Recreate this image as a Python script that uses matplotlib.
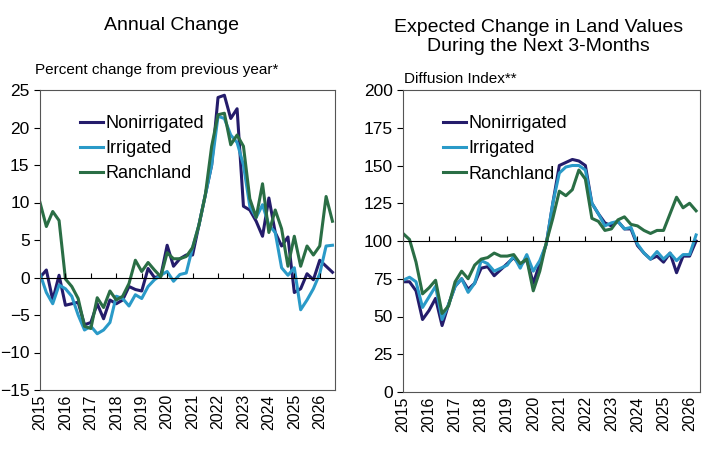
import numpy as np
import matplotlib.pyplot as plt

# Jahreslabels
years = [str(y) for y in range(2015, 2027)]

# Annual Change, quartalsweise ab 2015Q1
left_non = [0, 1, -3, 0.3, -3.7, -3.5, -3.3, -6.3, -6, -3.5, -5.5, -3, -3.5, -3, -1.2, -1.6,
            -1.8, 1.2, 0, 0.2, 4.3, 1.5, 2.5, 3, 3, 7, 11, 15, 24, 24.3, 21.2, 22.5,
            9.5, 9, 7.5, 5.5, 10.6, 6, 4.2, 5.4, -2, -1.5, 0.5, -0.3, 2.3, 1.5, 0.7]
left_irr = [0.5, -2, -3.5, -1, -1.5, -2.5, -5, -7, -6.5, -7.5, -7, -6, -2.5, -2.8, -3.8, -2.3,
            -2.8, -1.2, -0.3, 0.3, 0.8, -0.5, 0.4, 0.6, 4, 7, 11, 15, 21.5, 21.2, 19, 18,
            15, 9.5, 8, 9.7, 7, 6, 1.3, 0.3, 1.3, -4.3, -3, -1.5, 0.5, 4.2, 4.3]
left_ran = [10, 6.8, 8.8, 7.6, -0.2, -1.2, -2.8, -6.5, -6.8, -2.7, -4, -1.8, -3, -2.5, -0.8, 2.3,
            0.8, 2, 1, 0.1, 3.3, 2.5, 2.5, 2.8, 4, 7, 11, 17.5, 21.7, 21.9, 17.7, 19,
            17.5, 10.5, 8, 12.5, 6, 9, 6.5, 1.5, 5.5, 1.5, 4.2, 3, 4.2, 10.8, 7.5]

# Diffusion Index
right_non = [73, 73, 67, 48, 54, 62, 44, 58, 70, 75, 68, 72, 82, 83, 77, 81, 85, 89, 84, 88,
             72, 85, 98, 125, 150, 152, 154, 153, 150, 125, 118, 112, 110, 113, 108, 108,
             97, 92, 88, 90, 86, 92, 79, 90, 90, 100]
right_irr = [74, 76, 73, 56, 63, 70, 48, 58, 70, 75, 66, 72, 87, 85, 80, 82, 84, 90, 82, 91,
             80, 87, 98, 125, 145, 149, 150, 150, 147, 125, 118, 110, 112, 113, 108, 109,
             98, 92, 88, 93, 88, 92, 87, 91, 91, 104]
right_ran = [105, 101, 86, 65, 69, 74, 52, 57, 73, 80, 75, 84, 88, 89, 92, 90, 90, 91, 85, 88,
             67, 80, 99, 115, 133, 130, 134, 147, 141, 115, 113, 107, 108, 114, 116, 111,
             110, 107, 105, 107, 107, 118, 129, 122, 125, 120]

names = ["Nonirrigated", "Irrigated", "Ranchland"]
colors = ["#241c6b", "#2a9ac8", "#2a6e45"]

plt.rcParams['font.family'] = ['Liberation Sans', 'DejaVu Sans']
fig = plt.figure(figsize=(7.25, 4.62), dpi=100)
ax1 = fig.add_axes([40/725, 1-390/462, 295/725, 300/462])
ax2 = fig.add_axes([403/725, 1-392/462, 297/725, 302/462])


def setup(ax, series, ylim, ystep, hline, xmax):
    for s, n, c in zip(series, names, colors):
        ax.plot(np.arange(len(s)) / 4, s, color=c, lw=2.2, label=n)
    ax.set_xlim(0, xmax)
    ax.set_ylim(*ylim)
    ax.set_yticks(np.arange(ylim[0], ylim[1] + 1, ystep))
    ax.tick_params(axis='y', direction='out', labelsize=12.5, length=4)
    ax.set_xticks(range(len(years)))
    ax.set_xticklabels(years, rotation=90, fontsize=11.5)
    ax.tick_params(axis='x', length=0, pad=3)
    ax.axhline(hline, color='k', lw=0.8)
    tl = (ylim[1] - ylim[0]) * 0.015
    ax.vlines(range(len(years)), hline, hline + tl, color='k', lw=0.8)
    for sp in ax.spines.values():
        sp.set_color('#555555')
    ax.legend(loc='upper left', bbox_to_anchor=(0.08, 0.97), frameon=False, fontsize=13,
              handlelength=1.3, handletextpad=0.1, labelspacing=0.45)


setup(ax1, [left_non, left_irr, left_ran], (-15, 25), 5, 0, 11.6)
setup(ax2, [right_non, right_irr, right_ran], (0, 200), 25, 100, 11.4)

fig.text(0.236, 0.935, "Annual Change", ha='center', fontsize=14)
fig.text(0.048, 0.84, "Percent change from previous year*", fontsize=11)
fig.text(0.743, 0.89, "Expected Change in Land Values\nDuring the Next 3-Months", ha='center', fontsize=14,
         linespacing=1.15)
fig.text(0.557, 0.82, "Diffusion Index**", fontsize=11)

fig.savefig("out.png", dpi=100)
